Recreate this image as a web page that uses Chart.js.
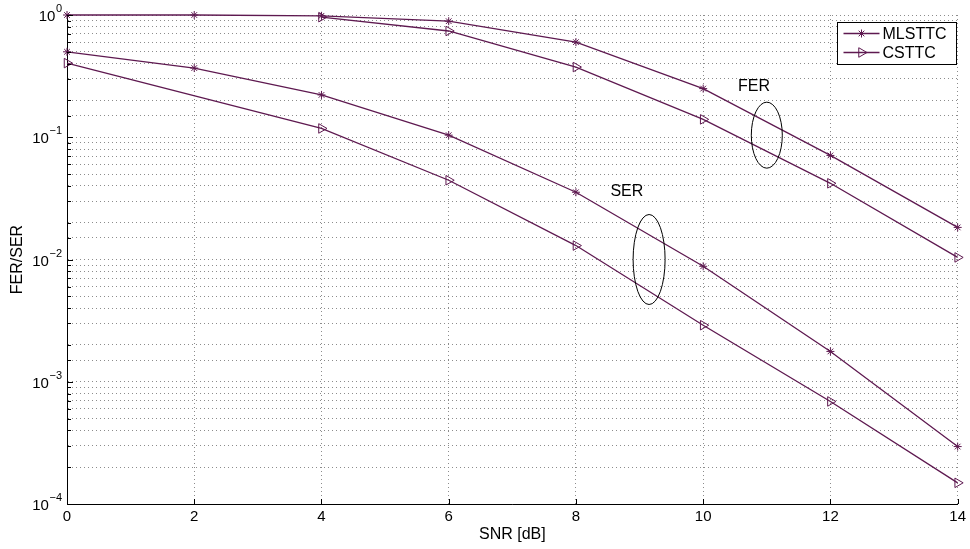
<!DOCTYPE html>
<html>
<head>
<meta charset="utf-8">
<script src="https://cdn.jsdelivr.net/npm/chart.js@4/dist/chart.umd.min.js"></script>
<style>
  body { margin: 0; background: #fff; }
</style>
</head>
<body>
<canvas id="myChart" width="970" height="549"></canvas>
<script>
// SNR points and error rates
const snr = [0, 2, 4, 6, 8, 10, 12, 14];
const ferMlsttc = [1, 1, 0.985, 0.89, 0.60, 0.25, 0.071, 0.0183];
const snrFerCsttc = [4, 6, 8, 10, 12, 14];
const ferCsttc = [0.96, 0.74, 0.375, 0.14, 0.042, 0.0104];
const serMlsttc = [0.5, 0.368, 0.222, 0.104, 0.0355, 0.0088, 0.00177, 0.000295];
const snrSerCsttc = [0, 4, 6, 8, 10, 12, 14];
const serCsttc = [0.404, 0.118, 0.0445, 0.0130, 0.0029, 0.00069, 0.000149];
const yDecades = [1, 0.1, 0.01, 0.001, 0.0001];
const yExponents = ['0', '\u22121', '\u22122', '\u22123', '\u22124'];
const xTicks = [0, 2, 4, 6, 8, 10, 12, 14];

const lineColor = 'rgb(94,25,80)';
const fontFam = '"Liberation Sans", Arial, Helvetica, sans-serif';

function pts(xs, ys) {
    return xs.map((x, i) => ({x: x, y: ys[i]}));
}

function serie(label, xs, ys, style) {
    return {
        label: label,
        data: pts(xs, ys),
        borderColor: lineColor,
        backgroundColor: 'rgba(0,0,0,0)',
        borderWidth: 1.3,
        pointStyle: style,
        pointRadius: style === 'star' ? 4 : 5.5,
        pointRotation: style === 'triangle' ? 90 : 0,
        pointBorderWidth: 1,
        pointBorderColor: lineColor,
        pointBackgroundColor: 'rgba(0,0,0,0)',
        tension: 0,
        clip: false
    };
}

// y tick labels, inward ticks, legend box, FER/SER ellipses
const extras = {
    id: 'extras',
    afterDraw(chart) {
        const c = chart.ctx;
        const xs = chart.scales.x, ys = chart.scales.y;
        const area = chart.chartArea;
        c.save();
        c.fillStyle = '#000';
        c.strokeStyle = '#000';
        c.lineWidth = 1;

        // inward ticks on left axis
        c.beginPath();
        ys.ticks.forEach(t => {
            const py = Math.round(ys.getPixelForValue(t.value)) + 0.5;
            const major = yDecades.indexOf(t.value) >= 0;
            c.moveTo(area.left, py);
            c.lineTo(area.left + (major ? 6 : 4), py);
        });
        xTicks.forEach(v => {
            const px = Math.round(xs.getPixelForValue(v)) + 0.5;
            c.moveTo(px, area.bottom);
            c.lineTo(px, area.bottom - 5);
        });
        c.stroke();

        // 10^n labels
        c.textBaseline = 'alphabetic';
        c.textAlign = 'right';
        yDecades.forEach((v, i) => {
            const py = ys.getPixelForValue(v);
            const right = area.left - 5;
            c.font = '11px ' + fontFam;
            const ew = c.measureText(yExponents[i]).width;
            c.fillText(yExponents[i], right, py - 3);
            c.font = '15px ' + fontFam;
            c.fillText('10', right - ew - 0.5, py + 6);
        });

        // legend
        const lx = 837.5, ly = 22.5, lw = 119, lh = 42;
        c.fillStyle = '#fff';
        c.fillRect(lx, ly, lw, lh);
        c.strokeRect(lx, ly, lw, lh);
        chart.data.datasets.slice(0, 2).forEach((ds, i) => {
            const ry = ly + 11 + i * 19;
            c.strokeStyle = lineColor;
            c.lineWidth = 1.3;
            c.beginPath();
            c.moveTo(lx + 6, ry);
            c.lineTo(lx + 42, ry);
            c.stroke();
            c.lineWidth = 1;
            c.fillStyle = 'rgba(0,0,0,0)';
            Chart.helpers.drawPoint(c, {
                pointStyle: ds.pointStyle,
                radius: ds.pointRadius,
                rotation: ds.pointRotation,
                borderWidth: 1
            }, lx + 24, ry);
            c.fillStyle = '#000';
            c.font = '16px ' + fontFam;
            c.textAlign = 'left';
            c.textBaseline = 'middle';
            c.fillText(ds.label, lx + 45, ry + 1);
        });

        // group annotations
        const notes = [
            {text: 'FER', tx: 10.8, ty: 0.262, ex: 11.0, ey: 0.104, rx: 15.5, ry: 33},
            {text: 'SER', tx: 8.8, ty: 0.036, ex: 9.15, ey: 0.0100, rx: 16, ry: 45}
        ];
        notes.forEach(n => {
            c.fillStyle = '#000';
            c.font = '16px ' + fontFam;
            c.textAlign = 'center';
            c.textBaseline = 'middle';
            c.fillText(n.text, xs.getPixelForValue(n.tx), ys.getPixelForValue(n.ty));
            c.strokeStyle = '#000';
            c.lineWidth = 1;
            c.beginPath();
            c.ellipse(xs.getPixelForValue(n.ex), ys.getPixelForValue(n.ey), n.rx, n.ry, 0, 0, Math.PI * 2);
            c.stroke();
        });
        c.restore();
    }
};

const ctx = document.getElementById('myChart');

new Chart(ctx, {
    type: 'line',
    data: {
        datasets: [
            serie('MLSTTC', snr, ferMlsttc, 'star'),
            serie('CSTTC', snrFerCsttc, ferCsttc, 'triangle'),
            serie('MLSTTC SER', snr, serMlsttc, 'star'),
            serie('CSTTC SER', snrSerCsttc, serCsttc, 'triangle')
        ]
    },
    options: {
        responsive: false,
        animation: false,
        layout: { padding: { top: 15, right: 9, left: 0, bottom: 0 } },
        plugins: {
            legend: { display: false },
            tooltip: { enabled: false }
        },
        scales: {
            x: {
                type: 'linear',
                min: 0,
                max: 14,
                afterBuildTicks: s => { s.ticks = xTicks.map(v => ({value: v})); },
                ticks: {
                    color: '#000',
                    font: { size: 15, family: fontFam },
                    padding: 4,
                    maxRotation: 0
                },
                grid: { color: '#8c8c8c', drawTicks: false },
                border: { display: true, color: '#000', width: 1, dash: [1, 3] },
                title: {
                    display: true,
                    text: 'SNR [dB]',
                    color: '#000',
                    font: { size: 16, family: fontFam },
                    padding: { top: 0, bottom: 5 }
                },
                afterFit: s => { s.height = 45; }
            },
            y: {
                type: 'logarithmic',
                min: 0.0001,
                max: 1,
                ticks: { display: false, autoSkip: false },
                grid: { color: '#8c8c8c', drawTicks: false },
                border: { display: true, color: '#000', width: 1, dash: [1, 3] },
                title: {
                    display: true,
                    text: 'FER/SER',
                    color: '#000',
                    font: { size: 16, family: fontFam },
                    padding: { top: 8, bottom: 0 }
                },
                afterFit: s => { s.width = 67; }
            }
        }
    },
    plugins: [extras]
});
</script>
</body>
</html>
